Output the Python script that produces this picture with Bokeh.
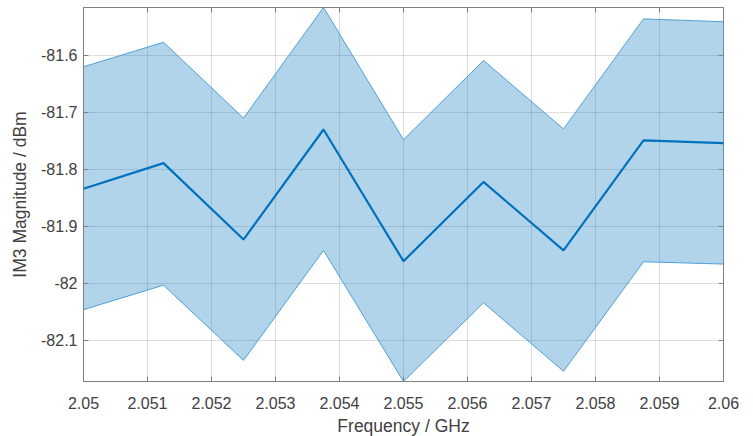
from bokeh.plotting import figure
from bokeh.models import FixedTicker, CustomJSTickFormatter, Range1d
from bokeh.embed import file_html
from bokeh.resources import INLINE

freq = [2.05, 2.05125, 2.0525, 2.05375, 2.055, 2.05625, 2.0575, 2.05875, 2.06]
mean = [-81.834, -81.789, -81.923, -81.730, -81.961, -81.822, -81.942, -81.749, -81.754]
upper = [-81.620, -81.577, -81.710, -81.516, -81.748, -81.609, -81.729, -81.536, -81.541]
lower = [-82.046, -82.003, -82.135, -81.942, -82.172, -82.034, -82.154, -81.962, -81.966]
x_ticks = [2.05, 2.051, 2.052, 2.053, 2.054, 2.055, 2.056, 2.057, 2.058, 2.059, 2.06]
y_ticks = [-82.1, -82.0, -81.9, -81.8, -81.7, -81.6]

FONT = "Liberation Sans"
AXIS_COLOR = "#808080"
TEXT_COLOR = "#404040"

y_lo, y_hi = min(lower), max(upper)

p = figure(
    frame_width=640, frame_height=374,
    min_border_left=83, min_border_right=22, min_border_top=7, min_border_bottom=54,
    x_range=Range1d(freq[0], freq[-1]),
    y_range=Range1d(y_lo, y_hi),
    output_backend="svg", toolbar_location=None,
)
p.outline_line_color = AXIS_COLOR
p.outline_line_width = 1
p.background_fill_color = "white"

fmt = CustomJSTickFormatter(code="return String(Number(tick.toFixed(4)));")

def style_axis(ax, ticks):
    ax.ticker = FixedTicker(ticks=ticks)
    ax.axis_line_color = AXIS_COLOR
    ax.axis_line_width = 1
    ax.major_tick_line_color = AXIS_COLOR
    ax.major_tick_in = 5
    ax.major_tick_out = 0
    ax.minor_tick_line_color = None
    ax.formatter = fmt
    ax.major_label_text_font = FONT
    ax.major_label_text_font_size = "16px"
    ax.major_label_text_color = TEXT_COLOR
    ax.axis_label_text_font = FONT
    ax.axis_label_text_font_size = "17.5px"
    ax.axis_label_text_font_style = "normal"
    ax.axis_label_text_color = TEXT_COLOR

xa = p.xaxis[0]
ya = p.yaxis[0]
style_axis(xa, x_ticks)
style_axis(ya, y_ticks)
xa.axis_label = "Frequency / GHz"
ya.axis_label = "IM3 Magnitude / dBm"
xa.major_label_standoff = 15
xa.axis_label_standoff = 4
ya.major_label_standoff = 6
ya.axis_label_standoff = 8

p.xgrid.ticker = FixedTicker(ticks=x_ticks)
p.ygrid.ticker = FixedTicker(ticks=y_ticks)
for g in (p.xgrid[0], p.ygrid[0]):
    g.grid_line_color = "#262626"
    g.grid_line_alpha = 0.15
    g.grid_line_width = 1

p.patch(freq + freq[::-1], upper + lower[::-1],
        fill_color="#0072BD", fill_alpha=0.3,
        line_color="#4d9fd6", line_width=1)
p.line(freq, mean, line_color="#0072BD", line_width=2.2)

# inward ticks on the top and right edges of the box (clipped to the frame)
p.scatter(x_ticks, [y_hi] * len(x_ticks), marker="dash", angle=1.5707963,
          size=10, line_color=AXIS_COLOR, line_width=1)
p.scatter([freq[-1]] * len(y_ticks), y_ticks, marker="dash",
          size=10, line_color=AXIS_COLOR, line_width=1)

open("out.html", "w").write(file_html(p, INLINE))
